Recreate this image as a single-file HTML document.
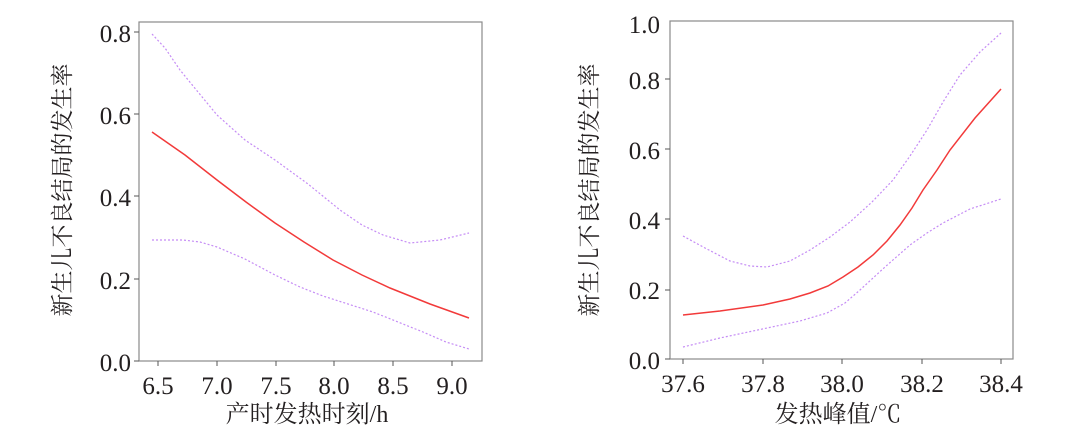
<!DOCTYPE html>
<html><head><meta charset="utf-8"><style>
html,body{margin:0;padding:0;background:#fff;}
svg{display:block;}
text{font-family:"Liberation Serif","Noto Serif CJK SC",serif;fill:#231f20;}
</style></head><body>
<svg width="1086" height="435" viewBox="0 0 1086 435" xmlns="http://www.w3.org/2000/svg">
<!-- Left panel -->
<rect x="139" y="22" width="343" height="339" fill="none" stroke="#8a8a8a" stroke-width="1.2"/>
<g stroke="#555" stroke-width="1">
<line x1="134" y1="32" x2="139" y2="32"/><line x1="134" y1="114" x2="139" y2="114"/><line x1="134" y1="196" x2="139" y2="196"/><line x1="134" y1="279" x2="139" y2="279"/><line x1="134" y1="361" x2="139" y2="361"/>
<line x1="158" y1="361" x2="158" y2="366"/><line x1="217" y1="361" x2="217" y2="366"/><line x1="276" y1="361" x2="276" y2="366"/><line x1="334" y1="361" x2="334" y2="366"/><line x1="393" y1="361" x2="393" y2="366"/><line x1="452" y1="361" x2="452" y2="366"/>
</g>
<g font-size="25" text-anchor="end">
<text x="131" y="42">0.8</text><text x="131" y="124">0.6</text><text x="131" y="206">0.4</text><text x="131" y="289">0.2</text><text x="131" y="371">0.0</text>
</g>
<g font-size="25" text-anchor="middle">
<text x="158" y="394">6.5</text><text x="217" y="394">7.0</text><text x="276" y="394">7.5</text><text x="334" y="394">8.0</text><text x="393" y="394">8.5</text><text x="452" y="394">9.0</text>
</g>
<text x="307" y="422" font-size="24" text-anchor="middle">产时发热时刻/h</text>
<text transform="translate(70,190) rotate(-90)" font-size="23" text-anchor="middle">新生儿不良结局的发生率</text>
<polyline fill="none" stroke="#f23a3a" stroke-width="1.5" points="152,132 185,155 217,180 246,202 275,223 304,242 333,260 362,275 390,288 430,304 469,318"/>
<polyline fill="none" stroke="#c58cf5" stroke-width="1.2" stroke-dasharray="2,2" points="152,34 165,48 180,70 198,92 217,115 245,140 275,160 308,184 340,210 362,225 383,235 410,243 440,240 469,233"/>
<polyline fill="none" stroke="#c58cf5" stroke-width="1.2" stroke-dasharray="2,2" points="152,240 183,240 200,242 217,247 245,259 275,275 300,287 323,296 348,304 373,312 398,322 423,332 446,342 469,349"/>

<!-- Right panel -->
<rect x="670" y="21" width="343" height="338" fill="none" stroke="#8a8a8a" stroke-width="1.2"/>
<g stroke="#555" stroke-width="1">
<line x1="665" y1="79" x2="670" y2="79"/><line x1="665" y1="149" x2="670" y2="149"/><line x1="665" y1="219" x2="670" y2="219"/><line x1="665" y1="290" x2="670" y2="290"/><line x1="665" y1="359" x2="670" y2="359"/>
<line x1="683" y1="359" x2="683" y2="364"/><line x1="763" y1="359" x2="763" y2="364"/><line x1="842" y1="359" x2="842" y2="364"/><line x1="922" y1="359" x2="922" y2="364"/><line x1="1001" y1="359" x2="1001" y2="364"/>
</g>
<g font-size="25" text-anchor="end">
<text x="660" y="33">1.0</text><text x="660" y="89">0.8</text><text x="660" y="159">0.6</text><text x="660" y="229">0.4</text><text x="660" y="299">0.2</text><text x="660" y="369">0.0</text>
</g>
<g font-size="25" text-anchor="middle">
<text x="683" y="392">37.6</text><text x="763" y="392">37.8</text><text x="842" y="392">38.0</text><text x="922" y="392">38.2</text><text x="1001" y="392">38.4</text>
</g>
<text x="838" y="422" font-size="24" text-anchor="middle">发热峰值/℃</text>
<text transform="translate(597,190) rotate(-90)" font-size="23" text-anchor="middle">新生儿不良结局的发生率</text>
<polyline fill="none" stroke="#f23a3a" stroke-width="1.5" points="683,315 720,311 763,305 790,299 810,293 828,286 843,277 858,267 873,255 887,241 900,225 912,208 923,190 937,170 950,150 975,118 1001,89"/>
<polyline fill="none" stroke="#c58cf5" stroke-width="1.2" stroke-dasharray="2,2" points="683,236 705,248 730,261 750,266 767,267 790,261 810,250 830,237 850,222 872,202 893,180 910,156 927,130 943,102 960,75 980,52 1001,33"/>
<polyline fill="none" stroke="#c58cf5" stroke-width="1.2" stroke-dasharray="2,2" points="683,347 720,338 767,328 800,321 827,313 845,303 860,290 885,267 910,245 927,233 943,223 970,209 1001,199"/>
</svg>
</body></html>
